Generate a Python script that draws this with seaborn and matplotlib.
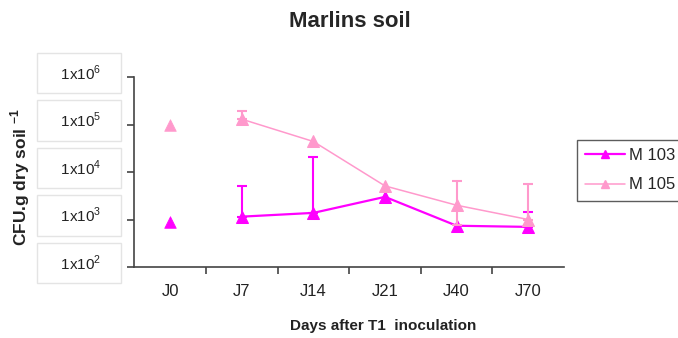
import numpy as np
import pandas as pd
import matplotlib
matplotlib.use('Agg')
import matplotlib.pyplot as plt
import seaborn as sns
from matplotlib.lines import Line2D
from matplotlib.ticker import NullLocator, FixedLocator
from matplotlib.transforms import ScaledTranslation

# values (CFU per g dry soil)
days = ['J0', 'J7', 'J14', 'J21', 'J40', 'J70']
m103 = [900, 1150, 1380, 3000, 740, 700]
m105 = [100000, 130000, 44000, 5100, 2000, 1000]
m103_err_up = [0, 4000, 19600, 0, 0, 750]
m103_err_lo = [0, 0, 0, 0, 0, 0]
m105_err_up = [0, 60000, 0, 0, 4600, 4600]
m105_err_lo = [0, 0, 0, 0, 1250, 0]
ytick_vals = [1e2, 1e3, 1e4, 1e5, 1e6]
ytick_labels = [r'   1x10$^{2}$   ', r'   1x10$^{3}$   ', r'   1x10$^{4}$   ',
                r'   1x10$^{5}$   ', r'   1x10$^{6}$   ']

sns.set_style('white')
plt.rcParams['font.family'] = ['Liberation Sans', 'DejaVu Sans']
plt.rcParams['mathtext.fontset'] = 'custom'
plt.rcParams['mathtext.rm'] = 'Liberation Sans'
plt.rcParams['mathtext.bf'] = 'Liberation Sans:bold'

colors = {'M103': '#FF00FF', 'M105': '#FF99CC'}
widths = {'M103': 1.6, 'M105': 1.1}

df = pd.DataFrame({
    'pos': list(range(len(days))) * 2,
    'cfu': m103 + m105,
    'up': m103_err_up + m105_err_up,
    'lo': m103_err_lo + m105_err_lo,
    'strain': ['M103'] * len(days) + ['M105'] * len(days),
})

fig = plt.figure(figsize=(6.78, 3.38), dpi=100)
ax = fig.add_axes([0.198, 0.210, 0.634, 0.562])

for name in ['M103', 'M105']:
    c = colors[name]
    sub = df[df['strain'] == name]
    sns.lineplot(data=sub[sub['pos'] > 0], x='pos', y='cfu', color=c, lw=widths[name],
                 marker='^', markersize=8, markeredgecolor=c, ax=ax)
    sns.scatterplot(data=sub[sub['pos'] == 0], x='pos', y='cfu', color=c, marker='^',
                    s=70, edgecolor=c, linewidth=0.5, ax=ax)
    e = sub[(sub['up'] > 0) | (sub['lo'] > 0)]
    ax.errorbar(e['pos'], e['cfu'], yerr=[e['lo'], e['up']], fmt='none', ecolor=c,
                elinewidth=1.5, capsize=3.5, capthick=1.5)

ax.set_yscale('log')
ax.set_ylim(1e2, 1e6)
ax.set_xlim(-0.5, len(days) - 0.5)
ax.yaxis.set_major_locator(FixedLocator(ytick_vals))
ax.yaxis.set_minor_locator(NullLocator())
ax.set_yticklabels(ytick_labels)
ax.set_xticks(range(len(days)))
ax.set_xticklabels(days)
ax.xaxis.set_minor_locator(FixedLocator(np.arange(0.5, len(days) - 1, 1)))
ax.set_xlabel('')
ax.set_ylabel('')

for s in ['top', 'right']:
    ax.spines[s].set_visible(False)
for s in ['left', 'bottom']:
    ax.spines[s].set_color('#444444')
    ax.spines[s].set_linewidth(1.2)

ax.tick_params(axis='x', which='major', length=0, pad=12, labelsize=12, labelcolor='#222222')
ax.tick_params(axis='x', which='minor', length=5, width=1.2, color='#444444', direction='out', bottom=True)
ax.tick_params(axis='y', which='major', length=5, width=1.2, color='#444444', direction='out',
               left=True, pad=12, labelsize=11, labelcolor='#222222')

shift = ScaledTranslation(0, 4 / 72, fig.dpi_scale_trans)
for lbl in ax.get_yticklabels():
    lbl.set_bbox(dict(boxstyle='square,pad=0.7', fc='white', ec='#e4e4e4', lw=1))
    lbl.set_transform(lbl.get_transform() + shift)

fig.text(0.516, 0.935, 'Marlins soil', ha='center', va='center', fontsize=16, fontweight='bold')
fig.text(0.565, 0.036, 'Days after T1  inoculation', ha='center', va='center',
         fontsize=11, fontweight='bold', color='#222222')
fig.text(0.03, 0.476, r'CFU.g dry soil $^{\mathbf{-1}}$', ha='center', va='center',
         rotation=90, fontsize=12.5, fontweight='bold', color='#222222')

# legend box runs past the right edge, as in the reference
handles = [Line2D([], [], color=colors[n], lw=widths[n], marker='^', markersize=6,
                  markeredgecolor=colors[n]) for n in ['M103', 'M105']]
leg = fig.legend(handles, ['M 103', 'M 105'], loc='upper left', mode='expand',
                 bbox_to_anchor=(577 / 678, 1 - 140 / 338, 0.2, 0), bbox_transform=fig.transFigure,
                 frameon=True, fancybox=False, edgecolor='#333333', fontsize=12,
                 handlelength=2.4, labelspacing=0.85, borderpad=0.5, borderaxespad=0,
                 handletextpad=0.2, numpoints=1)
leg.get_frame().set_linewidth(1.0)

fig.savefig('out.png', dpi=100)
